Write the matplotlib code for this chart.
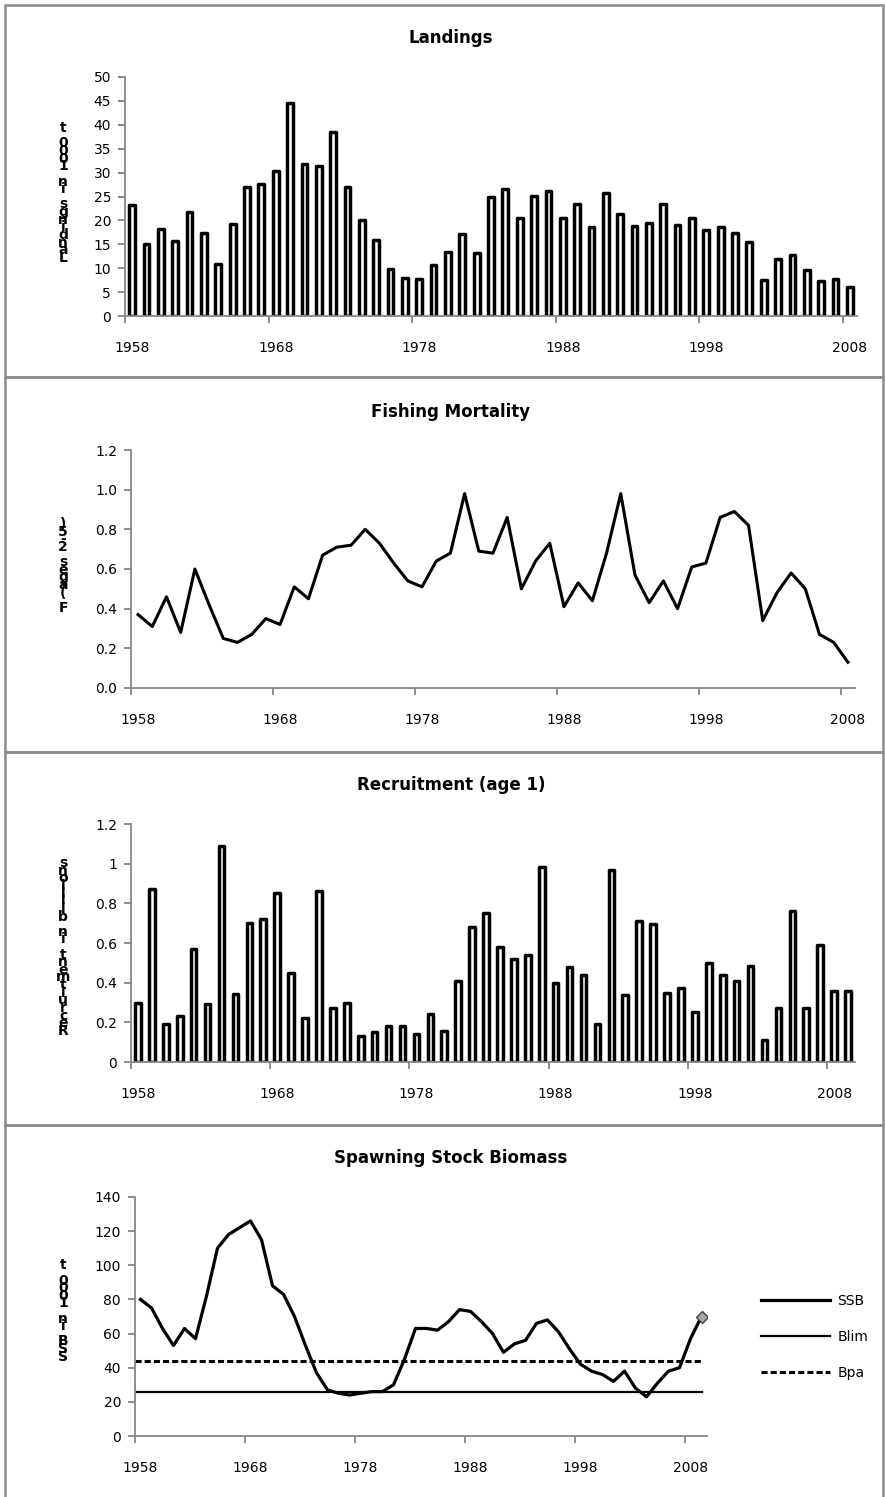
import numpy as np
import matplotlib.pyplot as plt
from matplotlib.patches import Rectangle

plt.rcParams['font.family'] = ['DejaVu Sans']

# categories
years_short = np.arange(1958, 2009)   # landings, F
years_long = np.arange(1958, 2010)    # recruitment, SSB
label_years = [1958, 1968, 1978, 1988, 1998, 2008]

# landings (1000 t)
landings = [23.2, 15.1, 18.3, 15.6, 21.7, 17.3, 10.8, 19.3, 27.0, 27.7,
            30.3, 44.5, 31.8, 31.4, 38.4, 27.0, 20.1, 15.8, 9.8, 8.0,
            7.8, 10.6, 13.4, 17.1, 13.1, 24.9, 26.6, 20.6, 25.2, 26.2,
            20.6, 23.4, 18.6, 25.7, 21.3, 18.9, 19.4, 23.4, 19.1, 20.6,
            18.0, 18.6, 17.3, 15.4, 7.6, 11.9, 12.8, 9.7, 7.3, 7.7,
            6.0]

# fishing mortality F (ages 2-5)
fbar = [0.37, 0.31, 0.46, 0.28, 0.60, 0.42, 0.25, 0.23, 0.27, 0.35,
        0.32, 0.51, 0.45, 0.67, 0.71, 0.72, 0.80, 0.73, 0.63, 0.54,
        0.51, 0.64, 0.68, 0.98, 0.69, 0.68, 0.86, 0.50, 0.64, 0.73,
        0.41, 0.53, 0.44, 0.68, 0.98, 0.57, 0.43, 0.54, 0.40, 0.61,
        0.63, 0.86, 0.89, 0.82, 0.34, 0.48, 0.58, 0.50, 0.27, 0.23,
        0.13]

# recruitment age 1 (billions)
recruitment = [0.30, 0.87, 0.19, 0.23, 0.57, 0.29, 1.09, 0.345, 0.70, 0.72,
               0.85, 0.45, 0.22, 0.86, 0.27, 0.295, 0.13, 0.15, 0.18, 0.18,
               0.14, 0.24, 0.155, 0.41, 0.68, 0.75, 0.58, 0.52, 0.54, 0.985,
               0.40, 0.48, 0.44, 0.19, 0.97, 0.34, 0.71, 0.695, 0.35, 0.375,
               0.25, 0.50, 0.44, 0.41, 0.485, 0.11, 0.27, 0.76, 0.27, 0.59,
               0.36, 0.36]

# spawning stock biomass (1000 t)
ssb = [80, 75, 63, 53, 63, 57, 82, 110, 118, 122,
       126, 115, 88, 83, 70, 53, 37, 27, 25, 24,
       25, 26, 26, 30, 45, 63, 63, 62, 67, 74,
       73, 67, 60, 49, 54, 56, 66, 68, 61, 51,
       42, 38, 36, 32, 38, 28, 23, 31, 38, 40,
       57, 70]
blim = 26
bpa = 44

W, H = 885, 1497
GRAY = '#868686'
TICK_FS = 10

fig = plt.figure(figsize=(W / 100, H / 100), dpi=100)


def add_ax(left, right, top, bottom):
    return fig.add_axes([left / W, 1 - bottom / H, (right - left) / W, (bottom - top) / H])


def style_ax(ax, years, yticks, ylabels):
    n = len(years)
    ax.set_xlim(-0.5, n - 0.5)
    ax.set_ylim(yticks[0], yticks[-1])
    for s in ['top', 'right']:
        ax.spines[s].set_visible(False)
    for s in ['left', 'bottom']:
        ax.spines[s].set_color(GRAY)
        ax.spines[s].set_linewidth(1.3)
    # tick marks between categories, labels under the categories
    ax.set_xticks(np.arange(-0.5, n - 1, 10))
    ax.set_xticklabels([])
    pos = [list(years).index(y) for y in label_years]
    ax.set_xticks(pos, [str(y) for y in label_years], minor=True)
    ax.tick_params(axis='x', which='major', length=5, width=1.3, color=GRAY)
    ax.tick_params(axis='x', which='minor', length=0, pad=18, labelsize=TICK_FS)
    ax.set_yticks(yticks, ylabels)
    ax.tick_params(axis='y', length=5, width=1.3, color=GRAY, pad=5, labelsize=TICK_FS)


def stacked_label(x, y, text):
    # the original export stacks the label letters upright, bottom to top
    fig.text(x / W, 1 - y / H, '\n'.join(reversed(text)), ha='center', va='center',
             fontsize=10, fontweight='bold', linespacing=0.42, color='black')


def title(y, text):
    fig.text(451 / W, 1 - y / H, text, ha='center', va='center', fontsize=12, fontweight='bold')


# panel frames
for top, bottom in [(5, 377), (377, 752), (752, 1125), (1125, 1510)]:
    fig.patches.append(Rectangle((5 / W, 1 - bottom / H), 878 / W, (bottom - top) / H,
                                 transform=fig.transFigure, fill=False,
                                 edgecolor='#8c8c8c', linewidth=1.8))

# Landings
ax1 = add_ax(125, 857, 77, 316)
ax1.bar(np.arange(len(years_short)), landings, width=0.4, color='white',
        edgecolor='black', linewidth=2.5, joinstyle='round')
style_ax(ax1, years_short, list(range(0, 51, 5)), [str(v) for v in range(0, 51, 5)])
title(38, 'Landings')
stacked_label(63, 193, 'Landings in 1000 t')

# Fishing mortality
ax2 = add_ax(131, 855, 450, 688)
ax2.plot(np.arange(len(years_short)), fbar, color='black', linewidth=2.2)
fticks = [0.0, 0.2, 0.4, 0.6, 0.8, 1.0, 1.2]
style_ax(ax2, years_short, fticks, ['%.1f' % v for v in fticks])
title(412, 'Fishing Mortality')
stacked_label(63, 566, 'F (ages 2-5)')

# Recruitment
ax3 = add_ax(131, 855, 824, 1062)
ax3.bar(np.arange(len(years_long)), recruitment, width=0.4, color='white',
        edgecolor='black', linewidth=2.5, joinstyle='round')
rticks = [0, 0.2, 0.4, 0.6, 0.8, 1.0, 1.2]
style_ax(ax3, years_long, rticks, ['0', '0.2', '0.4', '0.6', '0.8', '1', '1.2'])
title(785, 'Recruitment (age 1)')
stacked_label(63, 947, 'Recruitment in billions')

# SSB
ax4 = add_ax(135, 707, 1197, 1436)
xl = np.arange(len(years_long))
l_ssb, = ax4.plot(xl, ssb, color='black', linewidth=2.3)
ax4.plot(xl[-1], ssb[-1], marker='D', markersize=6, markerfacecolor='#a6a6a6',
         markeredgecolor='#404040', markeredgewidth=1)
l_blim, = ax4.plot([-0.5, xl[-1]], [blim, blim], color='black', linewidth=1.6)
l_bpa, = ax4.plot([-0.5, xl[-1]], [bpa, bpa], color='black', linewidth=2.2,
                  linestyle=(0, (2, 1)))
sticks = list(range(0, 141, 20))
style_ax(ax4, years_long, sticks, [str(v) for v in sticks])
title(1158, 'Spawning Stock Biomass')
stacked_label(63, 1311, 'SSB in 1000 t')
ax4.legend([l_ssb, l_blim, l_bpa], ['SSB', 'Blim', 'Bpa'], loc='center left',
           bbox_to_anchor=(761 / W, 1 - 1337 / H), bbox_transform=fig.transFigure,
           frameon=False, fontsize=TICK_FS, handlelength=5.0, handletextpad=0.5,
           labelspacing=1.6, borderpad=0, borderaxespad=0)

fig.savefig('out.png', dpi=100)
